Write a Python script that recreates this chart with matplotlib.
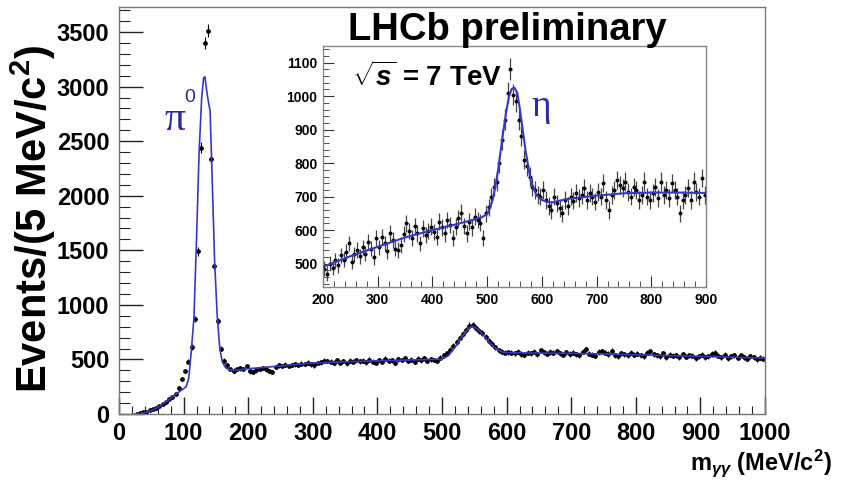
import numpy as np
import matplotlib
matplotlib.use("Agg")
import matplotlib.pyplot as plt
from matplotlib.ticker import MultipleLocator

plt.rcParams['font.family'] = ['Liberation Sans', 'DejaVu Sans']
plt.rcParams['font.weight'] = 'bold'
plt.rcParams['mathtext.fontset'] = 'custom'
plt.rcParams['mathtext.rm'] = 'Liberation Sans:bold'
plt.rcParams['mathtext.bf'] = 'Liberation Sans:bold'
plt.rcParams['mathtext.it'] = 'Liberation Sans:bold:italic'

# ---- data: diphoton mass, 5 MeV bins ----
BIN_W = 5.0
MAIN_FIRST = 27.5     # centre of first filled bin
main_counts = [
    4, 8, 14, 22, 32, 45, 58, 72, 90, 110,
    135, 160, 182, 235, 320, 395, 478, 615, 870, 1490,
    2440, 3400, 3510, 2340, 1360, 850, 600, 490, 445, 412,
    398, 410, 418, 412, 440, 390, 383, 400, 412, 420,
    408, 392, 385, 430, 445, 438, 452, 440, 448, 455,
    450, 462, 458, 470, 455, 446, 468, 472, 490, 485,
    478, 470, 492, 470, 485, 465, 490, 478, 495, 482,
    488, 475, 498, 480, 470, 495, 478, 505, 488, 492,
    470, 500, 495, 510, 485, 498, 480, 505, 492, 510,
    488, 500, 495, 490, 515, 540, 555, 590, 625, 660,
    700, 735, 770, 810, 815, 790, 760, 740, 705, 670,
    640, 610, 585, 570, 562, 565, 560, 555, 572, 550,
    545, 562, 558, 570, 548, 585, 565, 552, 568, 560,
    575, 558, 545, 565, 550, 560, 548, 540, 570, 592,
    552, 545, 535, 568, 575, 560, 550, 578, 540, 528,
    555, 548, 538, 560, 545, 552, 540, 530, 560, 575,
    548, 540, 530, 555, 520, 545, 532, 538, 520, 548,
    525, 540, 535, 510, 530, 545, 520, 528, 550, 560,
    535, 520, 545, 510, 528, 538, 515, 540, 522, 508,
    530, 520, 500, 515, 505,
]

fit_main_x = [25, 30, 40, 50, 60, 70, 80, 90, 100, 104, 108, 112, 116, 120,
              124, 128, 131, 133, 136, 139, 141, 144, 148, 152, 156, 160, 165,
              170, 180, 200, 250, 300, 350, 400, 450, 500, 510, 520, 530, 540,
              547, 555, 565, 575, 585, 595, 610, 650, 700, 750, 800, 850, 900,
              950, 1000]
fit_main_y = [0, 2, 12, 30, 60, 100, 145, 190, 232, 250, 330, 580, 880, 1600,
              2400, 2900, 3080, 3090, 2950, 2840, 2780, 2200, 1400, 900, 600,
              475, 425, 405, 400, 415, 440, 468, 478, 487, 495, 502, 535, 610,
              700, 780, 805, 780, 715, 645, 590, 565, 560, 558, 555, 550, 543,
              535, 528, 520, 512]

INSET_FIRST = 202.5
inset_counts = [
    485, 470, 500, 488, 510, 495, 525, 512, 535, 560,
    505, 528, 540, 522, 548, 530, 565, 545, 520, 575,
    548, 580, 560, 538, 590, 570, 545, 540, 555, 588,
    620, 598, 575, 612, 590, 560, 605, 585, 598, 610,
    595, 580, 625, 608, 590, 630, 615, 575, 610, 635,
    652, 612, 590, 625, 608, 640, 630, 622, 575, 650,
    668, 700, 730, 745, 800, 870, 930, 1010, 1080, 1005,
    985, 930, 880, 810, 790, 760, 730, 720, 705, 700,
    720, 690, 672, 660, 700, 680, 665, 650, 690, 672,
    700, 688, 712, 695, 705, 725, 690, 710, 700, 685,
    715, 700, 740, 690, 660, 705, 720, 750, 735, 725,
    745, 715, 700, 730, 720, 690, 705, 745, 700, 690,
    710, 728, 695, 745, 705, 720, 695, 740, 720, 700,
    650, 690, 705, 725, 690, 745, 715, 700, 755, 705,
]

fit_inset_x = [200, 250, 300, 350, 400, 450, 490, 500, 505, 510, 515, 520,
               525, 530, 535, 540, 545, 550, 555, 560, 565, 570, 575, 580,
               590, 600, 610, 620, 630, 650, 700, 750, 800, 850, 900]
fit_inset_y = [490, 522, 550, 578, 600, 620, 638, 648, 665, 690, 730, 780,
               840, 900, 955, 1000, 1022, 1025, 1010, 960, 900, 840, 790, 745,
               705, 690, 684, 683, 687, 694, 703, 710, 712, 712, 711]

BLUE = '#3838c8'
LBLUE = '#2a2aa8'
SERIF = ['Liberation Serif', 'DejaVu Serif']

m_main = MAIN_FIRST + BIN_W * np.arange(len(main_counts))
y_main = np.array(main_counts, dtype=float)
m_ins = INSET_FIRST + BIN_W * np.arange(len(inset_counts))
y_ins = np.array(inset_counts, dtype=float)

fig = plt.figure(figsize=(8.44, 4.83), dpi=100)
ax = fig.add_axes([0.141, 0.1429, 0.7654, 0.8427])

ax.errorbar(m_main, y_main, yerr=np.sqrt(y_main), xerr=BIN_W / 2, fmt='o',
            ms=2.4, color='black', ecolor='black', elinewidth=0.8, capsize=0,
            zorder=2)
ax.plot(fit_main_x, fit_main_y, color=BLUE, lw=1.2, zorder=3)

ax.set_xlim(0, 1000)
ax.set_ylim(0, 3730)
ax.xaxis.set_major_locator(MultipleLocator(100))
ax.xaxis.set_minor_locator(MultipleLocator(20))
ax.yaxis.set_major_locator(MultipleLocator(500))
ax.yaxis.set_minor_locator(MultipleLocator(100))
ax.tick_params(which='both', direction='in', top=False, right=False,
               color='#222', labelsize=17)
ax.tick_params(axis='y', which='major', length=17, width=1.0, pad=7)
ax.tick_params(axis='y', which='minor', length=8, width=0.8)
ax.tick_params(axis='x', which='major', length=12, width=1.0, pad=6)
ax.tick_params(axis='x', which='minor', length=6, width=0.8)
for lab in ax.get_xticklabels() + ax.get_yticklabels():
    lab.set_fontweight('bold')
for sp in ax.spines.values():
    sp.set_color('#777')
    sp.set_linewidth(1.0)

# pi0 label
ax.text(87, 2700, 'π', color=LBLUE, fontsize=30, family=SERIF,
        fontweight='normal', ha='center', va='center')
ax.text(110, 2900, '0', color=LBLUE, fontsize=14, fontweight='normal',
        ha='center', va='center')

fig.text(33 / 844, 1 - 219 / 483, r'Events/(5 MeV/c$^2$)', rotation=90,
         fontsize=30, fontweight='bold', ha='center', va='center')
fig.text(832 / 844, 1 - 463 / 483, r'm$_{\gamma\gamma}$ (MeV/c$^2$)',
         fontsize=17, fontweight='bold', ha='right', va='center')
fig.text(507 / 844, 1 - 30 / 483, 'LHCb preliminary', fontsize=27.5,
         fontweight='bold', ha='center', va='center')

# ---- inset ----
ins = fig.add_axes([0.3827, 0.4058, 0.4538, 0.499])
ins.set_facecolor('white')
ins.errorbar(m_ins, y_ins, yerr=np.sqrt(y_ins), xerr=BIN_W / 2, fmt='o',
             ms=1.8, color='black', ecolor='#444', elinewidth=0.9, capsize=0,
             zorder=2)
ins.plot(fit_inset_x, fit_inset_y, color=BLUE, lw=1.5, zorder=3)
ins.set_xlim(200, 900)
ins.set_ylim(430, 1150)
ins.xaxis.set_major_locator(MultipleLocator(100))
ins.xaxis.set_minor_locator(MultipleLocator(20))
ins.yaxis.set_major_locator(MultipleLocator(100))
ins.yaxis.set_minor_locator(MultipleLocator(20))
ins.tick_params(which='both', direction='in', top=False, right=False,
                color='#333', labelsize=10)
ins.tick_params(which='major', length=8, width=0.8, pad=4)
ins.tick_params(which='minor', length=4, width=0.6)
for lab in ins.get_xticklabels() + ins.get_yticklabels():
    lab.set_fontweight('bold')
for sp in ins.spines.values():
    sp.set_color('#888')
    sp.set_linewidth(1.0)

ins.text(0.075, 0.87, r'$\sqrt{s}$ = 7 TeV', transform=ins.transAxes,
         fontsize=20, fontweight='bold', ha='left', va='center')
ins.text(598, 968, 'η', color=LBLUE, fontsize=27, family=SERIF,
         fontweight='normal', ha='center', va='center')

fig.savefig('out.png', dpi=100)
